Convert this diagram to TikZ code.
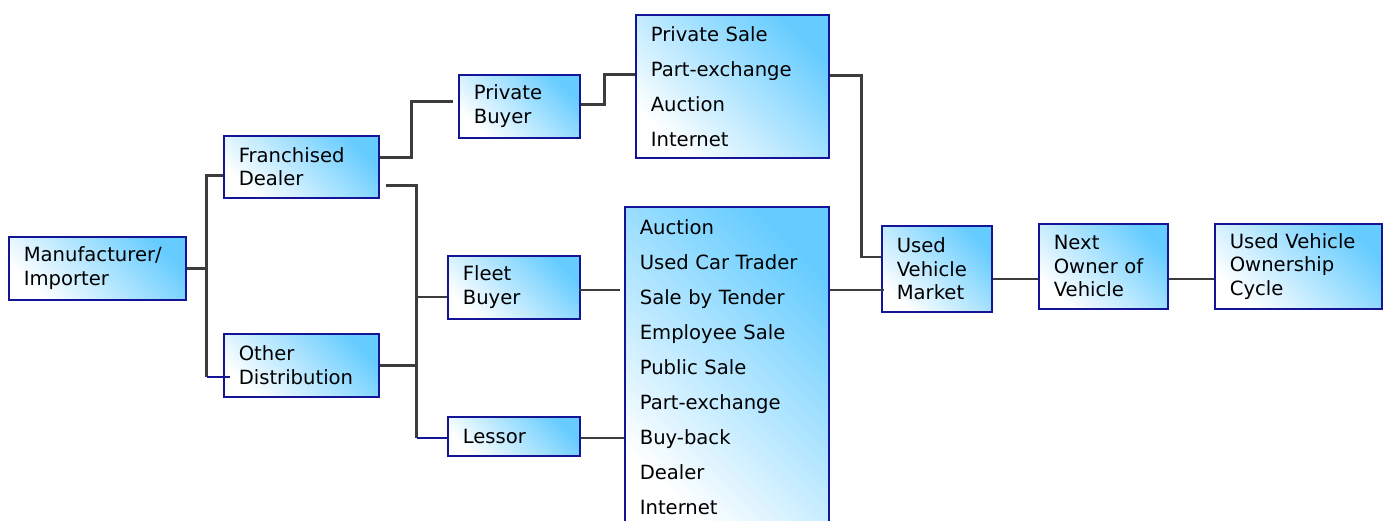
\documentclass[tikz,border=0pt]{standalone}
\usepackage{fontspec}
\setmainfont{DejaVu Sans}
\definecolor{skyb}{RGB}{102,204,255}
\definecolor{navyb}{RGB}{20,20,150}
\definecolor{lineg}{RGB}{60,60,60}
\begin{document}
\begin{tikzpicture}[x=1pt,y=-1pt,
  box/.style={draw=navyb, line width=1.6pt, top color=skyb, bottom color=white,
    shading angle=-45, anchor=north west, inner xsep=15pt, inner ysep=0pt,
    align=left, font=\fontsize{19.6}{23.5}\selectfont},
  listbox/.style={box, font=\fontsize{19.6}{35}\selectfont},
  conn/.style={draw=lineg, line width=2.6pt},
  navyconn/.style={draw=navyb, line width=2.6pt}]
\useasboundingbox (0,0) rectangle (1388,521);

\node[box, minimum width=177pt, minimum height=63pt, text width=147pt] (man) at (8,236) {Manufacturer/\\Importer};
\node[box, minimum width=155pt, minimum height=62pt, text width=125pt] (fd) at (223,135) {Franchised\\Dealer};
\node[box, minimum width=155pt, minimum height=63pt, text width=125pt] (od) at (223,333) {Other\\Distribution};
\node[box, minimum width=121pt, minimum height=63pt, text width=91pt] (pb) at (458,74) {Private\\Buyer};
\node[box, minimum width=132pt, minimum height=63pt, text width=102pt] (fb) at (447,255) {Fleet\\Buyer};
\node[box, minimum width=132pt, minimum height=39pt, text width=102pt] (ls) at (447,416) {Lessor};
\node[listbox, minimum width=193pt, minimum height=143pt, text width=163pt] (ps) at (635,14) {Private Sale\\Part-exchange\\Auction\\Internet};
\node[listbox, minimum width=204pt, minimum height=320pt, text width=174pt] (ab) at (624,206) {Auction\\Used Car Trader\\Sale by Tender\\Employee Sale\\Public Sale\\Part-exchange\\Buy-back\\Dealer\\Internet};
\node[box, minimum width=110pt, minimum height=86pt, text width=80pt] (uvm) at (881,225) {Used\\Vehicle\\Market};
\node[box, minimum width=129pt, minimum height=85pt, text width=99pt] (nx) at (1038,223) {Next\\Owner of\\Vehicle};
\node[box, minimum width=167pt, minimum height=85pt, text width=137pt] (cy) at (1214,223) {Used Vehicle\\Ownership\\Cycle};

% manufacturer to dealers
\draw[conn] (man.east) -- ++(20,0) coordinate (j1);
\draw[conn] (j1) |- ([yshift=-9pt]fd.west);
\draw[conn] (j1) |- ([yshift=-11.5pt]od.west -| j1);
\draw[navyconn] ([yshift=-11.5pt]od.west -| j1) -- ([xshift=7pt,yshift=-11.5pt]od.west);

% franchised dealer to private buyer
\draw[conn] ([yshift=9pt]fd.east) -- ++(32,0) |- ([xshift=-5pt,yshift=4.5pt]pb.west);

% franchised dealer bus
\draw[conn] ([xshift=6pt,yshift=-19pt]fd.east) -- ++(31,0) coordinate (b1) -- ([yshift=-1.5pt]ls.west -| b1);
\draw[conn] ([yshift=-9.5pt]fb.west) -- ([yshift=-9.5pt]fb.west -| b1);
\draw[conn] (od.east) -- (od.east -| b1);
\draw[navyconn] ([yshift=-1.5pt]ls.west -| b1) -- ([yshift=-1.5pt]ls.west);

% private buyer to private sale
\draw[conn] ([yshift=1.5pt]pb.east) -- ++(24,0) |- ([yshift=11.5pt]ps.west);

% fleet and lessor to auction box
\draw[conn] ([xshift=-2pt,yshift=-2.5pt]fb.east) -- ([xshift=-4pt,yshift=-2.5pt]fb.east -| ab.west);
\draw[conn] ([yshift=-1.5pt]ls.east) -- ([yshift=-1.5pt]ls.east -| ab.west);

% to used vehicle market
\draw[conn] ([yshift=10.5pt]ps.east) -- ++(32,0) |- ([yshift=12pt]uvm.west);
\draw[conn] ([yshift=77pt]ab.east) -- ([xshift=3pt,yshift=77pt]ab.east -| uvm.west);

% chain
\draw[conn] ([yshift=-10pt]uvm.east) -- ([yshift=-10pt]uvm.east -| nx.west);
\draw[conn] ([yshift=-12.5pt]nx.east) -- ([yshift=-12.5pt]nx.east -| cy.west);
\end{tikzpicture}
\end{document}
